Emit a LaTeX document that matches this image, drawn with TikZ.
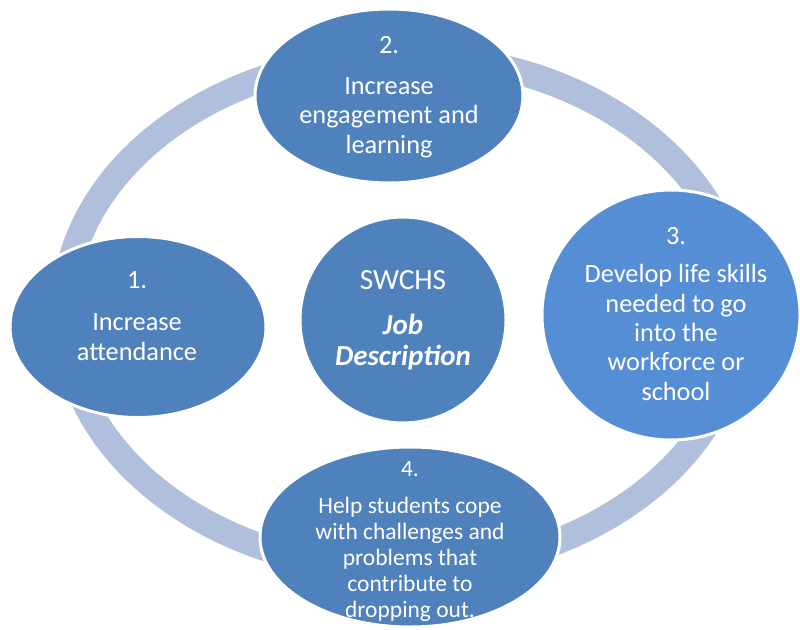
\documentclass[tikz,border=0pt]{standalone}
\usepackage{fontspec}
\setmainfont{Carlito}
\usetikzlibrary{shapes.geometric}
\definecolor{mainblue}{HTML}{4F81BD}
\definecolor{lightblue}{HTML}{558ED5}
\definecolor{ringblue}{HTML}{B0C0DC}
\begin{document}
\begin{tikzpicture}[x=1pt,y=-1pt,
  bubble/.style={ellipse, fill=mainblue, draw=white, line width=3pt, inner sep=0pt},
  txt/.style={text=white, align=center, anchor=base, inner sep=0pt, font=\fontsize{26.3}{29.5}\selectfont},
  smalltxt/.style={txt, font=\fontsize{23.5}{26}\selectfont}]
\useasboundingbox (0,0) rectangle (800,629);
\fill[white] (0,0) rectangle (800,629);
\draw[ringblue, line width=26pt] (402,313) ellipse [x radius=338, y radius=257];
% bubbles
\node[bubble, minimum width=268, minimum height=174] (e2) at (389,96) {};
\node[bubble, minimum width=256, minimum height=181] (e1) at (138,327) {};
\node[bubble, minimum width=206, minimum height=206] (c0) at (403,320) {};
\node[bubble, fill=lightblue, minimum width=258, minimum height=250] (e3) at (671,315) {};
\node[bubble, minimum width=300, minimum height=180] (e4) at (410,537) {};
% texts (anchor = baseline of the last line)
\node[txt] (n2) at (389,53) {2.};
\node[txt] (p2) at (389,153) {Increase\\engagement and\\learning};
\node[txt] (n1) at (137,288) {1.};
\node[txt, font=\fontsize{26.3}{30}\selectfont] (p1) at (137,360) {Increase\\attendance};
\node[txt, font=\fontsize{29.3}{31}\selectfont] (s0) at (403,289) {SWCHS};
\node[txt, font=\fontsize{29}{31}\selectfont\bfseries\itshape] (j0) at (403,365) {Job\\Description};
\node[txt] (n3) at (676,244) {3.};
\node[txt, font=\fontsize{26.3}{29.3}\selectfont] (p3) at (676,400) {Develop life skills\\needed to go\\into the\\workforce or\\school};
\node[smalltxt] (n4) at (410,476) {4.};
\node[smalltxt] (p4) at (410,617) {Help students cope\\with challenges and\\problems that\\contribute to\\dropping out.};
\end{tikzpicture}
\end{document}
